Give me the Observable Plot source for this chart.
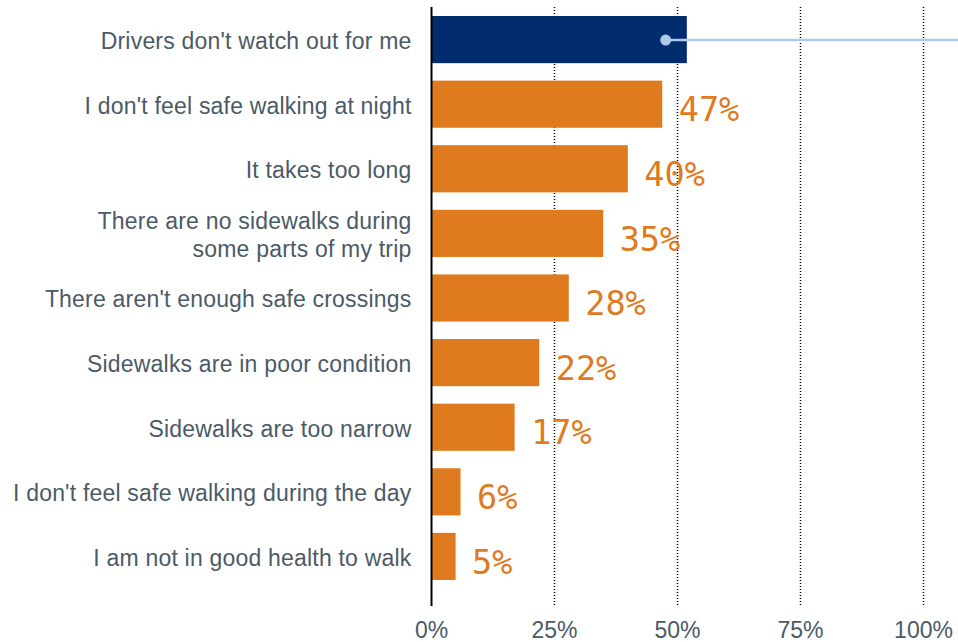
<!DOCTYPE html>
<html>
<head>
<meta charset="utf-8">
<script src="https://cdn.jsdelivr.net/npm/d3@7"></script>
<script src="https://cdn.jsdelivr.net/npm/@observablehq/plot@0.6"></script>
<style>
  html, body { margin: 0; padding: 0; background: #fff; }
  #chart svg { display: block; }
  #chart svg g[aria-label="y-axis tick label"] text { letter-spacing: 0.2px; }
</style>
</head>
<body>
<div id="chart"></div>
<script>
const categories = [
  "Drivers don't watch out for me",
  "I don't feel safe walking at night",
  "It takes too long",
  "There are no sidewalks during\nsome parts of my trip",
  "There aren't enough safe crossings",
  "Sidewalks are in poor condition",
  "Sidewalks are too narrow",
  "I don't feel safe walking during the day",
  "I am not in good health to walk"
];
const values = [52, 47, 40, 35, 28, 22, 17, 6, 5];
const highlighted = [true, false, false, false, false, false, false, false, false];
const xTicks = [0, 25, 50, 75, 100];
const gridTicks = [25, 50, 75, 100];
const annotationStart = [47.6];
const annotationEnd = [107.3];

const NAVY = "#012d6e";
const ORANGE = "#e07a1e";
const TEXT = "#4b5a67";

const data = categories.map((c, i) => ({category: c, value: values[i], highlight: highlighted[i]}));
const labeled = data.filter(d => !d.highlight);
const annotation = data.filter(d => d.highlight).map((d, i) => ({category: d.category, x1: annotationStart[i], x2: annotationEnd[i]}));

const chart = Plot.plot({
  width: 958,
  height: 642,
  marginLeft: 431,
  marginRight: 35,
  marginTop: 7,
  marginBottom: 36,
  style: {fontFamily: "'Liberation Sans', Arial, sans-serif", background: "#fff"},
  x: {domain: [0, 100], label: null},
  y: {domain: categories, paddingInner: 0.27, paddingOuter: 0, insetTop: 9, insetBottom: 26, round: false, label: null},
  marks: [
    Plot.ruleX(gridTicks, {stroke: "#000", strokeWidth: 1.5, strokeDasharray: "1,2"}),
    Plot.barX(data, {x: "value", y: "category", fill: d => d.highlight ? NAVY : ORANGE}),
    Plot.ruleX([0], {stroke: "#000", strokeWidth: 2}),
    Plot.text(labeled, {
      x: "value", y: "category", text: d => d.value + "%",
      textAnchor: "start", dx: 16, dy: 6,
      fontFamily: "'DejaVu Sans Mono', monospace", fontSize: 33.5, fill: ORANGE
    }),
    Plot.ruleY(annotation, {y: "category", x1: "x1", x2: "x2", stroke: "#aec9ea", strokeWidth: 2.5}),
    Plot.dot(annotation, {x: "x1", y: "category", r: 5.5, fill: "#aec9ea", stroke: "none"}),
    Plot.axisX({ticks: xTicks, tickFormat: d => d + "%", tickSize: 0, tickPadding: 15, fontSize: 23, color: TEXT, label: null}),
    Plot.axisY({tickSize: 0, tickPadding: 20, fontSize: 23, color: TEXT, lineHeight: 1.22, label: null})
  ]
});
document.getElementById("chart").append(chart);
</script>
</body>
</html>
